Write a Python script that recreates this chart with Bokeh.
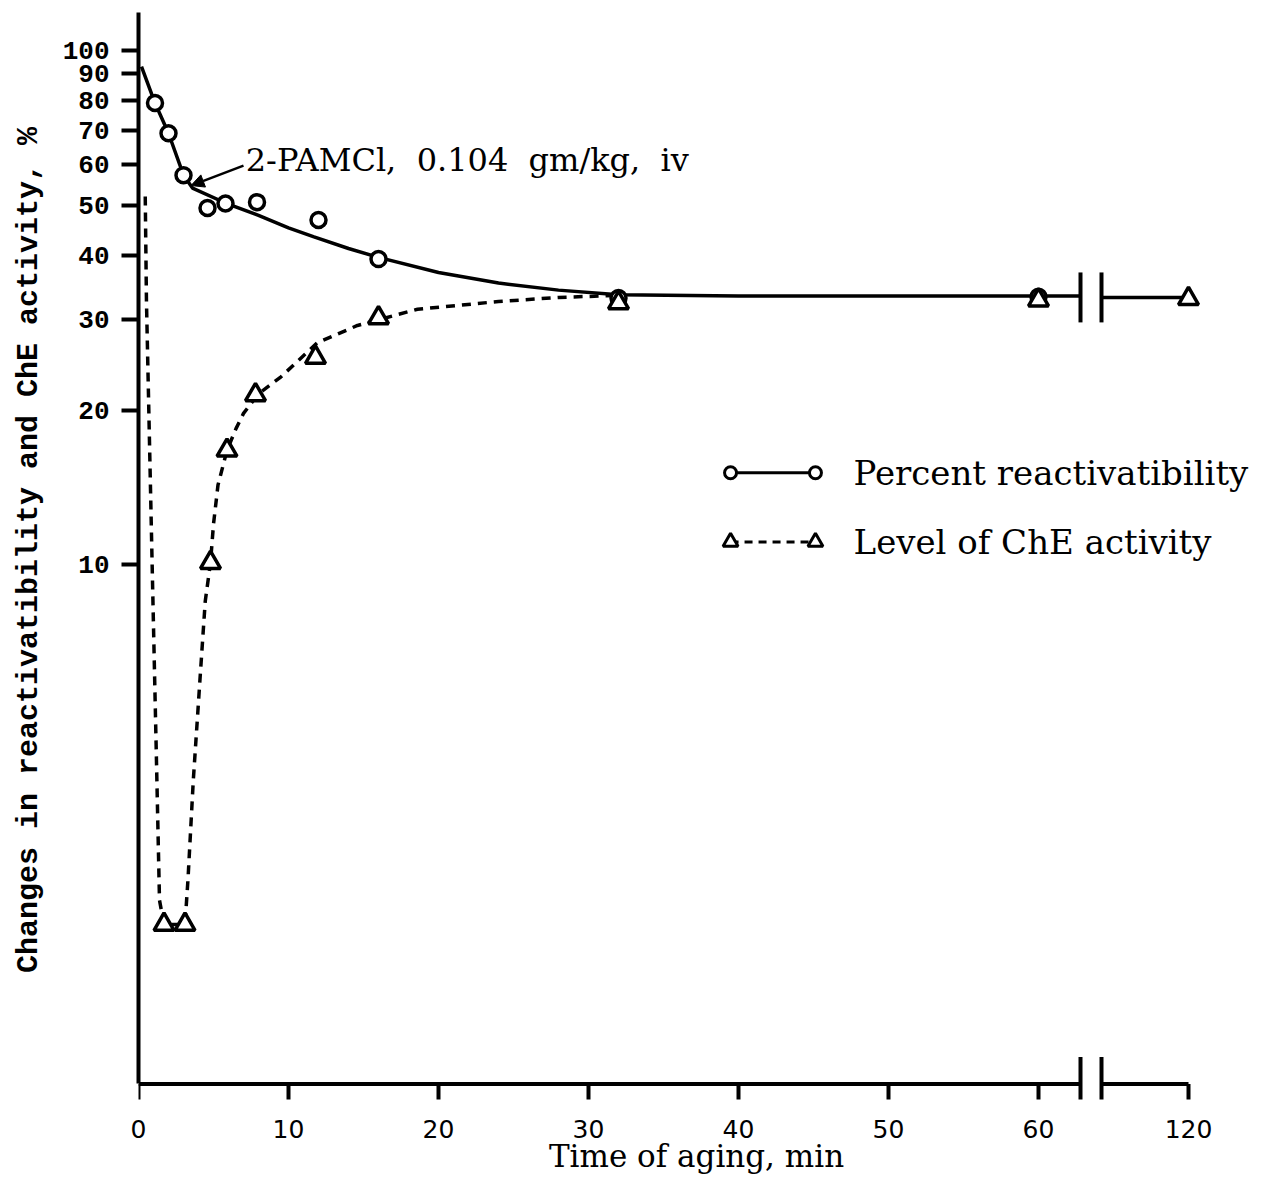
import math
from bokeh.plotting import figure
from bokeh.models import Range1d, FixedTicker, NumeralTickFormatter, Arrow, NormalHead
from bokeh.core.properties import value
from bokeh.embed import file_html
from bokeh.resources import INLINE

# ---------------- data ----------------
react_t = [1.1, 2.0, 3.0, 4.6, 5.8, 7.9, 12.0, 16.0, 32.0, 60.0]
react_pct = [79, 69, 57.2, 49.4, 50.4, 50.7, 46.8, 39.3, 33.0, 33.2]

che_t = [1.7, 3.1, 4.8, 5.9, 7.8, 11.8, 16.0, 32.0, 60.0, 120.0]
che_pct = [2.0, 2.0, 10.1, 16.7, 21.4, 25.3, 30.2, 32.3, 32.7, 32.9]

# hand-drawn fitted curves
react_curve_t = [0.2, 1.1, 2.0, 3.0, 3.6, 5.8, 8.0, 10.0, 11.7, 14.0, 16.0, 20.0,
                 24.0, 28.0, 32.0, 40.0, 60.0, 120.0]
react_curve_pct = [93, 79, 69, 57.2, 54, 50.5, 47.8, 45.2, 43.4, 41.2, 39.6, 37.0,
                   35.3, 34.2, 33.5, 33.3, 33.3, 33.1]

che_curve_t = [0.45, 0.53, 0.73, 0.93, 1.18, 1.4, 1.7, 3.1, 3.3, 3.65, 4.1, 4.45,
               4.8, 5.0, 5.3, 5.9, 6.5, 7.0, 8.0, 9.5, 11.9, 14.6, 18.6, 24.0, 28.0, 32.0]
che_curve_pct = [52, 32.6, 17.5, 9.4, 4.4, 2.23, 2.0, 2.0, 2.45, 3.8, 6.0, 8.5,
                 10.1, 12.0, 14.3, 16.7, 18.4, 19.7, 21.5, 23.2, 27.0, 29.2, 31.4, 32.5, 33.1, 33.4]

x_tick_labels = [0, 10, 20, 30, 40, 50, 60, 120]
y_tick_labels = [10, 20, 30, 40, 50, 60, 70, 80, 90, 100]

legend_labels = ["Percent reactivatibility", "Level of ChE activity"]
annotation_text = "2-PAMCl,\u00a0 0.104\u00a0 gm/kg,\u00a0 iv"

# ---------------- broken time axis ----------------
BREAK_L, BREAK_R = 62.8, 64.2


def xpos(t):
    # 0-60 min linear; 60-120 min compressed behind the axis break
    return t if t <= 60 else 60 + 10 * (t - 60) / 60


PX_PER_DECADE = 515.0


def shift(v, px):
    return v * 10 ** (px / PX_PER_DECADE)


Y_AXIS = 0.98
Y_TOP = 125.0
FRAME_H = 1100
Y_BOTTOM = 10 ** (math.log10(Y_TOP) - FRAME_H / PX_PER_DECADE)

SERIF = value("DejaVu Serif")

p = figure(width=1254, height=1176, output_backend="svg", toolbar_location=None,
           x_range=Range1d(0, 74.4), y_range=Range1d(Y_BOTTOM, Y_TOP),
           y_axis_type="log",
           min_border_left=138, min_border_right=0, min_border_top=0, min_border_bottom=0)
p.outline_line_color = None
p.grid.visible = False

# y axis
ya = p.yaxis[0]
ya.ticker = FixedTicker(ticks=y_tick_labels, minor_ticks=[])
ya.formatter = NumeralTickFormatter(format="0")
ya.bounds = (Y_AXIS, 118.6)
ya.axis_line_width = 4
ya.axis_line_color = "black"
ya.major_tick_line_width = 4
ya.major_tick_out = 17
ya.major_tick_in = 0
ya.minor_tick_line_color = None
ya.major_label_standoff = 12
ya.major_label_text_font = "Liberation Mono"
ya.major_label_text_font_style = "bold"
ya.major_label_text_font_size = "26px"
ya.major_label_text_color = "black"
ya.axis_label = "Changes in reactivatibility and ChE activity, %"
ya.axis_label_text_font = "Liberation Mono"
ya.axis_label_text_font_style = "bold"
ya.axis_label_text_font_size = "30px"
ya.axis_label_text_color = "black"
ya.axis_label_standoff = 14

# x axis (labels only; the line and ticks sit on the broken axis drawn below)
xa = p.xaxis[0]
x_tick_pos = [xpos(t) for t in x_tick_labels]
xa.ticker = FixedTicker(ticks=x_tick_pos, minor_ticks=[])
xa.major_label_overrides = {xpos(t): str(t) for t in x_tick_labels}
xa.axis_line_color = None
xa.major_tick_line_color = None
xa.minor_tick_line_color = None
xa.major_label_standoff = 14
xa.major_label_text_font = "DejaVu Sans"
xa.major_label_text_font_size = "25px"
xa.major_label_text_color = "black"
xa.axis_label = "Time of aging, min"
xa.axis_label_text_font = "DejaVu Serif"
xa.axis_label_text_font_style = "normal"
xa.axis_label_text_font_size = "31px"
xa.axis_label_text_color = "black"
xa.axis_label_standoff = -3

# broken x-axis line, its ticks and break marks
p.segment(x0=[0, BREAK_R], y0=[Y_AXIS, Y_AXIS], x1=[BREAK_L, xpos(120)], y1=[Y_AXIS, Y_AXIS],
          line_color="black", line_width=4)
p.segment(x0=x_tick_pos, y0=[Y_AXIS] * len(x_tick_pos), x1=x_tick_pos,
          y1=[shift(Y_AXIS, -17)] * len(x_tick_pos), line_color="black", line_width=4)
p.segment(x0=[BREAK_L, BREAK_R], y0=[shift(Y_AXIS, -27)] * 2, x1=[BREAK_L, BREAK_R],
          y1=[shift(Y_AXIS, 27)] * 2, line_color="black", line_width=4)

# solid fitted curve with gap at the break
r_x = [xpos(t) for t in react_curve_t if t <= 60]
r_y = [v for t, v in zip(react_curve_t, react_curve_pct) if t <= 60]
r_x += [BREAK_L, float("nan"), BREAK_R, xpos(react_curve_t[-1])]
r_y += [r_y[-1], float("nan"), react_curve_pct[-1], react_curve_pct[-1]]
p.line(r_x, r_y, line_color="black", line_width=3.5)
y_brk = react_curve_pct[-1]
p.segment(x0=[BREAK_L, BREAK_R], y0=[shift(y_brk, -25)] * 2, x1=[BREAK_L, BREAK_R],
          y1=[shift(y_brk, 25)] * 2, line_color="black", line_width=4)

# dashed fitted curve
p.line([xpos(t) for t in che_curve_t], che_curve_pct, line_color="black",
       line_width=3.5, line_dash="9 7")

# data points
p.scatter([xpos(t) for t in react_t], react_pct, marker="circle", size=15,
          line_color="black", line_width=3.5, fill_color="white")
p.scatter([xpos(t) for t in che_t], che_pct, marker="triangle", size=20,
          line_color="black", line_width=3.5, fill_color="white")

# annotation with arrow
p.add_layout(Arrow(end=NormalHead(size=13, fill_color="black", line_color="black", line_width=1),
                   x_start=7.0, y_start=59.7, x_end=3.5, y_end=54.6,
                   line_color="black", line_width=2.5))
p.text(x=[7.15], y=[61.1], text=[annotation_text], text_font=SERIF,
       text_font_size="32px", text_baseline="middle", text_align="left", text_color="black")

# legend (drawn in the figure, as in the original)
LX0, LX1, LTX = 39.47, 45.13, 47.67
LY = [15.1, 11.08]
p.line([LX0, LX1], [LY[0], LY[0]], line_color="black", line_width=3)
p.scatter([LX0, LX1], [LY[0], LY[0]], marker="circle", size=12, line_color="black",
          line_width=3, fill_color="white")
p.line([LX0, LX1], [LY[1], LY[1]], line_color="black", line_width=3, line_dash="8 6")
p.scatter([LX0, LX1], [LY[1], LY[1]], marker="triangle", size=15, line_color="black",
          line_width=3, fill_color="white")
p.text(x=[LTX, LTX], y=LY, text=legend_labels, text_font=SERIF, text_font_size="34px",
       text_baseline="middle", text_align="left", text_color="black")

open("out.html", "w").write(file_html(p, INLINE))
